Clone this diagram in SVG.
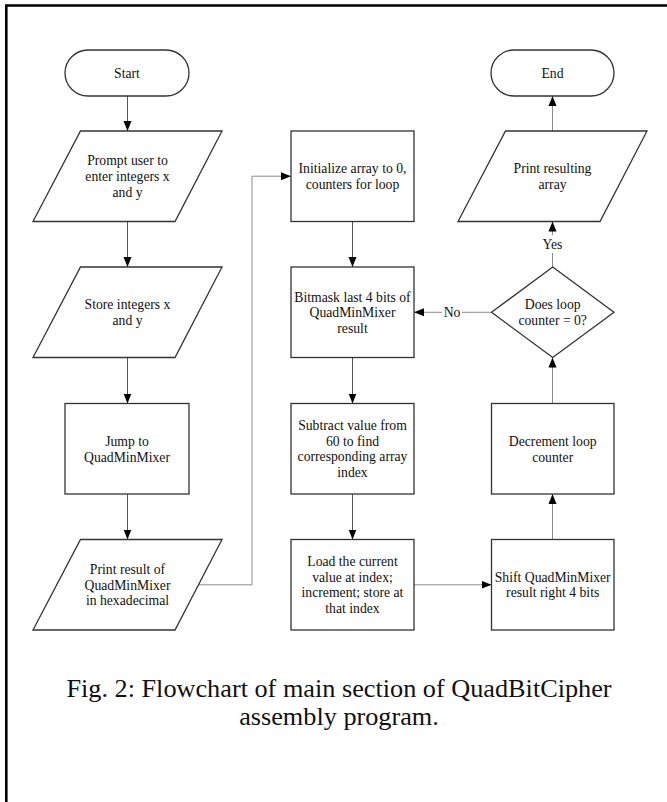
<svg xmlns="http://www.w3.org/2000/svg" width="667" height="802" viewBox="0 0 667 802">
  <style>
    .shape { fill: #ffffff; stroke: #333333; stroke-width: 1.3; }
    .txt { font-family: "Liberation Serif", "Times New Roman", serif; font-size: 13.7px; fill: #111111; text-anchor: middle; }
    .lbl { font-family: "Liberation Serif", "Times New Roman", serif; font-size: 13.7px; fill: #111111; text-anchor: middle; }
    .cap { font-family: "Liberation Serif", "Times New Roman", serif; font-size: 25px; fill: #111111; text-anchor: middle; }
    .wire { fill: none; stroke: #555555; stroke-width: 1; }
    .wire.light { stroke: #8c8c8c; }
    .frame { fill: none; stroke: #000000; stroke-width: 2.6; }
  </style>
  <defs>
    <marker id="arrow" markerUnits="userSpaceOnUse" markerWidth="10" markerHeight="10" viewBox="0 0 10 10" refX="10" refY="5" orient="auto">
      <path d="M0,1 L10,5 L0,9 Z" fill="#000000"/>
    </marker>
  </defs>

  <rect width="667" height="802" fill="#ffffff"/>
  <!-- page frame (open on the right and bottom) -->
  <path class="frame" d="M6.3,802 V5.5 H667"/>

  <!-- connectors -->
  <g id="connectors">
    <line class="wire" x1="127.5" y1="96" x2="127.5" y2="131" marker-end="url(#arrow)"/>
    <line class="wire" x1="127.5" y1="221.5" x2="127.5" y2="267" marker-end="url(#arrow)"/>
    <line class="wire" x1="127.5" y1="357.5" x2="127.5" y2="403.5" marker-end="url(#arrow)"/>
    <line class="wire" x1="127.5" y1="494" x2="127.5" y2="539.5" marker-end="url(#arrow)"/>
    <polyline class="wire light" points="198.5,584.8 252,584.8 252,176.2 291,176.2" marker-end="url(#arrow)"/>
    <line class="wire" x1="352.5" y1="221.5" x2="352.5" y2="267" marker-end="url(#arrow)"/>
    <line class="wire" x1="352.5" y1="357.5" x2="352.5" y2="403.5" marker-end="url(#arrow)"/>
    <line class="wire" x1="352.5" y1="494" x2="352.5" y2="539.5" marker-end="url(#arrow)"/>
    <line class="wire light" x1="414" y1="584.8" x2="491.5" y2="584.8" marker-end="url(#arrow)"/>
    <line class="wire light" x1="552.5" y1="539.5" x2="552.5" y2="494" marker-end="url(#arrow)"/>
    <line class="wire light" x1="552.5" y1="403.5" x2="552.5" y2="357.5" marker-end="url(#arrow)"/>
    <!-- No branch -->
    <line class="wire light" x1="491.5" y1="312.3" x2="414" y2="312.3" marker-end="url(#arrow)"/>
    <rect x="442" y="303" width="20" height="18" fill="#ffffff"/>
    <text class="lbl" x="452" y="317">No</text>
    <!-- Yes branch -->
    <line class="wire light" x1="552.5" y1="267" x2="552.5" y2="221.5" marker-end="url(#arrow)"/>
    <rect x="539" y="235" width="27" height="18" fill="#ffffff"/>
    <text class="lbl" x="552.5" y="249">Yes</text>
    <line class="wire light" x1="552.5" y1="131" x2="552.5" y2="96" marker-end="url(#arrow)"/>
  </g>

  <!-- left column -->
  <g id="start">
    <rect class="shape" x="65" y="50" width="124" height="46" rx="23" ry="23"/>
    <text class="txt" x="127" y="78">Start</text>
  </g>
  <g id="prompt">
    <polygon class="shape" points="80.5,131 222,131 175,221.5 33,221.5"/>
    <text class="txt" x="127.5" y="165.3">Prompt user to</text>
    <text class="txt" x="127.5" y="181">enter integers x</text>
    <text class="txt" x="127.5" y="196.7">and y</text>
  </g>
  <g id="store">
    <polygon class="shape" points="80.5,267 222,267 175,357.5 33,357.5"/>
    <text class="txt" x="127.5" y="309.4">Store integers x</text>
    <text class="txt" x="127.5" y="325.1">and y</text>
  </g>
  <g id="jump">
    <rect class="shape" x="65" y="403.5" width="124" height="90.5"/>
    <text class="txt" x="127" y="445.9">Jump to</text>
    <text class="txt" x="127" y="461.6">QuadMinMixer</text>
  </g>
  <g id="print-result">
    <polygon class="shape" points="80.5,539.5 222,539.5 175,630 33,630"/>
    <text class="txt" x="127.5" y="574">Print result of</text>
    <text class="txt" x="127.5" y="589.7">QuadMinMixer</text>
    <text class="txt" x="127.5" y="605.4">in hexadecimal</text>
  </g>

  <!-- middle column -->
  <g id="init">
    <rect class="shape" x="291" y="131" width="123" height="90.5"/>
    <text class="txt" x="352.5" y="173.4">Initialize array to 0,</text>
    <text class="txt" x="352.5" y="189.1">counters for loop</text>
  </g>
  <g id="bitmask">
    <rect class="shape" x="291" y="267" width="123" height="90.5"/>
    <text class="txt" x="352.5" y="301.5">Bitmask last 4 bits of</text>
    <text class="txt" x="352.5" y="317.2">QuadMinMixer</text>
    <text class="txt" x="352.5" y="332.9">result</text>
  </g>
  <g id="subtract">
    <rect class="shape" x="291" y="403.5" width="123" height="90.5"/>
    <text class="txt" x="352.5" y="430">Subtract value from</text>
    <text class="txt" x="352.5" y="445.7">60 to find</text>
    <text class="txt" x="352.5" y="461.4">corresponding array</text>
    <text class="txt" x="352.5" y="477.1">index</text>
  </g>
  <g id="load">
    <rect class="shape" x="291" y="539.5" width="123" height="90.5"/>
    <text class="txt" x="352.5" y="566">Load the current</text>
    <text class="txt" x="352.5" y="581.7">value at index;</text>
    <text class="txt" x="352.5" y="597.4">increment; store at</text>
    <text class="txt" x="352.5" y="613.1">that index</text>
  </g>

  <!-- right column -->
  <g id="end">
    <rect class="shape" x="491" y="50" width="123" height="46" rx="23" ry="23"/>
    <text class="txt" x="552.5" y="78">End</text>
  </g>
  <g id="print-array">
    <polygon class="shape" points="505.5,131 647,131 600,221.5 458,221.5"/>
    <text class="txt" x="552.5" y="173.4">Print resulting</text>
    <text class="txt" x="552.5" y="189.1">array</text>
  </g>
  <g id="decision">
    <polygon class="shape" points="552.7,267 614,312.3 552.7,357.5 491.5,312.3"/>
    <text class="txt" x="552.7" y="309.4">Does loop</text>
    <text class="txt" x="552.7" y="325.1">counter = 0?</text>
  </g>
  <g id="decrement">
    <rect class="shape" x="491.5" y="403.5" width="122.5" height="90.5"/>
    <text class="txt" x="552.7" y="445.9">Decrement loop</text>
    <text class="txt" x="552.7" y="461.6">counter</text>
  </g>
  <g id="shift">
    <rect class="shape" x="491.5" y="539.5" width="122.5" height="90.5"/>
    <text class="txt" x="552.7" y="581.7">Shift QuadMinMixer</text>
    <text class="txt" x="552.7" y="597.4">result right 4 bits</text>
  </g>

  <!-- caption, slightly widened -->
  <g transform="translate(339,0) scale(1.05,1)">
    <text class="cap" x="0" y="697">Fig. 2: Flowchart of main section of QuadBitCipher</text>
    <text class="cap" x="0" y="725">assembly program.</text>
  </g>
</svg>
